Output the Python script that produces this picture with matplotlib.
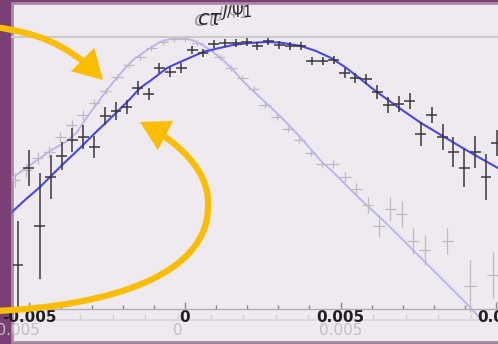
import matplotlib.pyplot as plt
import numpy as np
from matplotlib.patches import Rectangle, FancyArrowPatch
from matplotlib.path import Path
from matplotlib.ticker import MultipleLocator, FuncFormatter

# binning (same for both histograms)
forste_senter = -0.00537
bredde = 0.00035
antall = 45
senter = forste_senter + bredde * np.arange(antall)

# dark histogram: counts and errors
mork_y = [44, 141, 83, 132, 153, 169, 172, 162, 193, 198, 202, 221, 215, 241, 237,
          241, 259, 256, 265, 266, 266, 267, 263, 268, 264, 263, 263, 248, 248, 249,
          236, 231, 230, 217, 204, 205, 208, 175, 194, 172, 157, 141, 157, 132, 166]
mork_feil = [44, 18, 53, 22, 14, 12, 12, 11, 9, 9, 7, 7, 6, 5, 5,
             5, 4, 4, 4, 4, 4, 4, 4, 4, 4, 4, 4, 4, 4, 4,
             5, 5, 5, 7, 8, 8, 8, 12, 8, 13, 15, 19, 16, 23, 13]

# dark fit curve
mork_kurve_x = [-0.005563, -0.005145, -0.004662, -0.004019, -0.003376, -0.002958,
                -0.002186, -0.001768, -0.001447, -0.001125, -0.000579, -0.000161,
                0.000579, 0.000965, 0.001543, 0.002090, 0.002572, 0.003055,
                0.003730, 0.004212, 0.004695, 0.005145, 0.005563, 0.006045,
                0.006527, 0.007074, 0.007588, 0.008232, 0.008875, 0.009486, 0.010064]
mork_kurve_y = [97, 109, 122, 142, 161, 174, 197, 210, 221, 228, 241, 247,
                257, 260, 264, 266, 267, 266.5, 263, 258, 251, 242, 232, 220,
                209, 197, 186, 174, 162, 151, 141]

# faded histogram: counts and errors (nan = empty bin)
lys_y = [136, 140, 150, 162, 168, 183, 195, 205, 217, 229, 243, 255, 263, 272, 278,
         281, 281, 277, 270, 263, 252, 242, 231, 215, 203, 191, 180, 167, 156, 156,
         143, 131, 115, 94, 111, 106, 79, 70, np.nan, 79, np.nan, 34, np.nan, 45, np.nan]
lys_feil = [7, 7, 7, 6, 6, 5, 5, 5, 4, 3, 3, 3, 3, 3, 3,
            3, 3, 3, 3, 3, 3, 3, 3, 3, 3, 3, 3, 3, 3, 4,
            5, 6, 8, 11, 12, 13, 13, 15, 0, 13, 0, 26, 0, 23, 0]

# faded fit curve
lys_kurve_x = [-0.005105, -0.004459, -0.003936, -0.003413, -0.003106, -0.002706,
               -0.002183, -0.001784, -0.001384, -0.000953, -0.000554, -0.000246,
               0.0, 0.000246, 0.000523, 0.000800, 0.001076, 0.001384, 0.001691,
               0.001968, 0.002214, 0.002675, 0.003167, 0.003782, 0.004367,
               0.004828, 0.005535, 0.006458, 0.007288, 0.008087, 0.008825, 0.009317, 0.009594]
lys_kurve_y = [142, 157, 169, 179, 188, 207, 230, 246, 260, 270, 278, 281,
               282, 281.5, 279, 274, 268, 260, 250, 240, 232, 218, 203, 182,
               160, 146, 123, 95, 68, 42, 18, 1, -10]

hake_x = [-0.005, 0.0, 0.005, 0.01]

lilla = '#7a3f73'
bakgrunn = '#efeaf0'
gul = '#fbbd00'

fig = plt.figure(figsize=(4.98, 3.44), dpi=100, facecolor=lilla)

# panel behind everything, in pixel units
bg = fig.add_axes([0, 0, 1, 1])
bg.set_xlim(0, 498)
bg.set_ylim(344, 0)
bg.axis('off')
bg.add_patch(Rectangle((11.5, 3), 520, 339, facecolor=bakgrunn,
                       edgecolor='#a88aa3', linewidth=2))

etikett = FuncFormatter(lambda v, pos: f'{v:g}')

# faded copy of the plot, shifted a little
lys = fig.add_axes([12 / 498, 24 / 344, 486 / 498, 283 / 344])
lys.set_facecolor('none')
lys.set_xlim(-0.0051046, 0.0098401)
lys.set_ylim(0, 283)
for side in ['top', 'left', 'right']:
    lys.spines[side].set_visible(False)
lys.spines['bottom'].set_color('#dcd6dc')
lys.spines['bottom'].set_linewidth(1.2)
lys.set_yticks([])
lys.xaxis.set_major_locator(MultipleLocator(0.005))
lys.xaxis.set_minor_locator(MultipleLocator(0.001))
lys.xaxis.set_major_formatter(etikett)
lys.tick_params(axis='x', which='major', direction='in', length=5, width=1,
                color='#d4ced4', labelcolor='#c4bec4', labelsize=11, pad=2)
lys.tick_params(axis='x', which='minor', direction='in', length=4, width=1,
                color='#d4ced4')
lys.plot(lys_kurve_x, lys_kurve_y, color='#b4b4f0', linewidth=1.3)
lys.errorbar(senter, lys_y, xerr=bredde / 2, yerr=lys_feil, fmt='none',
             ecolor='#c0bac0', elinewidth=0.9)

# main plot
ax = fig.add_axes([12 / 498, 35 / 344, 486 / 498, 272 / 344])
ax.set_facecolor('none')
ax.set_xlim(-0.0055627, 0.0100643)
ax.set_ylim(0, 272)
for side in ['left', 'right']:
    ax.spines[side].set_visible(False)
ax.spines['top'].set_color('#cfc8cf')
ax.spines['top'].set_linewidth(1.5)
ax.spines['bottom'].set_color('#b4acb4')
ax.spines['bottom'].set_linewidth(1)
ax.set_yticks([])
ax.set_xticks(hake_x)
ax.xaxis.set_minor_locator(MultipleLocator(0.001))
ax.xaxis.set_major_formatter(etikett)
ax.tick_params(axis='x', which='major', direction='in', length=5, width=1,
               color='#8c848c', labelcolor='#202020', labelsize=11, pad=1)
ax.tick_params(axis='x', which='minor', direction='in', length=3, width=1,
               color='#8c848c')
for t in ax.get_xticklabels():
    t.set_fontweight('bold')
ax.plot(mork_kurve_x, mork_kurve_y, color='#4848e8', linewidth=1.5)
ax.errorbar(senter, mork_y, xerr=bredde / 2, yerr=mork_feil, fmt='none',
            ecolor='#3a363a', elinewidth=1.1)

# title and arrows on top, in pixel units
top = fig.add_axes([0, 0, 1, 1])
top.set_xlim(0, 498)
top.set_ylim(344, 0)
top.axis('off')
tittel = r'$c\tau^{J/\Psi 1}$'
top.text(221, 19, tittel, fontsize=15, color='#a09ca0', ha='center', va='center')
top.text(225, 18, tittel, fontsize=15, color='#2a2a2a', ha='center', va='center')

pil1 = Path([(-5, 27), (35, 33), (65, 42), (103, 80)],
            [Path.MOVETO, Path.CURVE4, Path.CURVE4, Path.CURVE4])
pil2 = Path([(-5, 311), (110, 306), (212, 275), (208, 202),
             (208, 170), (178, 142), (140, 122)],
            [Path.MOVETO, Path.CURVE4, Path.CURVE4, Path.CURVE4,
             Path.CURVE4, Path.CURVE4, Path.CURVE4])
for p in [pil1, pil2]:
    top.add_patch(FancyArrowPatch(path=p, arrowstyle='-|>,head_length=0.7,head_width=0.4',
                                  mutation_scale=20, color=gul, linewidth=4.5,
                                  joinstyle='miter', capstyle='butt'))

plt.savefig('out.png', dpi=100, facecolor=lilla)
